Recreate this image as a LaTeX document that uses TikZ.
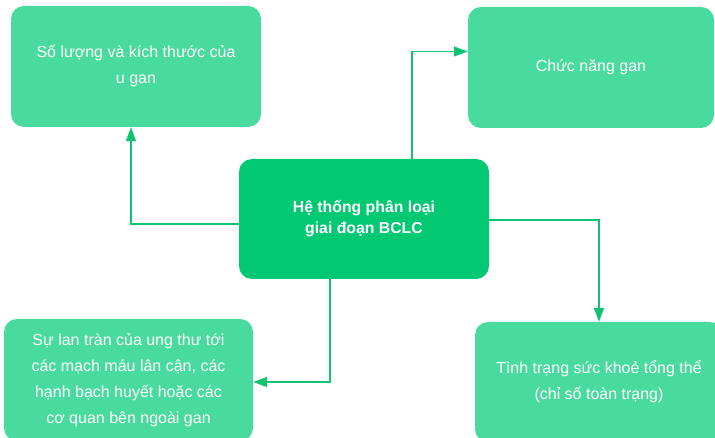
\documentclass[tikz,border=0pt]{standalone}
\usepackage{fontspec}
\setmainfont{Liberation Sans}
\usetikzlibrary{arrows.meta}
\definecolor{leafgreen}{HTML}{48DA9F}
\definecolor{hubgreen}{HTML}{00C873}
\definecolor{linkgreen}{HTML}{10C373}
\tikzset{
    leaf/.style={draw=none, fill=leafgreen, rounded corners=13pt, text=white,
        align=center, inner sep=0pt, font=\fontsize{16}{26}\selectfont},
    hub/.style={leaf, fill=hubgreen, font=\fontsize{15.8}{23}\selectfont\bfseries},
    link/.style={draw=linkgreen, line width=1.3pt, -{Triangle[length=14pt,width=10pt]}}
}
\begin{document}
\begin{tikzpicture}[x=1pt, y=-1pt]
    \useasboundingbox (0,0) rectangle (715,438);

    % CENTRO
    \node[hub, minimum width=250pt, minimum height=120pt] (bclc) at (364,219)
        {\raisebox{-4pt}{\shortstack{Hệ thống phân loại\\[3pt]giai đoạn BCLC}}};

    % RIQUADRI ESTERNI
    \node[leaf, minimum width=250pt, minimum height=121pt] (size) at (136,66.5)
        {Số lượng và kích thước của\\u gan};
    \node[leaf, minimum width=246pt, minimum height=121pt] (liver) at (591,67.5)
        {\raisebox{4pt}{Chức năng gan}};
    \node[leaf, minimum width=249pt, minimum height=122pt] (spread) at (128.5,380)
        {Sự lan tràn của ung thư tới\\các mạch máu lân cận, các\\hạnh bạch huyết hoặc các\\cơ quan bên ngoài gan};
    \node[leaf, minimum width=248pt, minimum height=120pt] (health) at (599,382)
        {Tình trạng sức khoẻ tổng thể\\(chỉ số toàn trạng)};

    % FRECCE
    \draw[link] ([yshift=-5pt]bclc.west) -| ([xshift=-5pt]size.south);
    \draw[link] ([xshift=48pt]bclc.north) |- ([yshift=16pt]liver.west);
    \draw[link] ([yshift=-1pt]bclc.east) -| (health.north);
    \draw[link] ([xshift=-34pt]bclc.south) |- ([yshift=-2pt]spread.east);

\end{tikzpicture}
\end{document}
